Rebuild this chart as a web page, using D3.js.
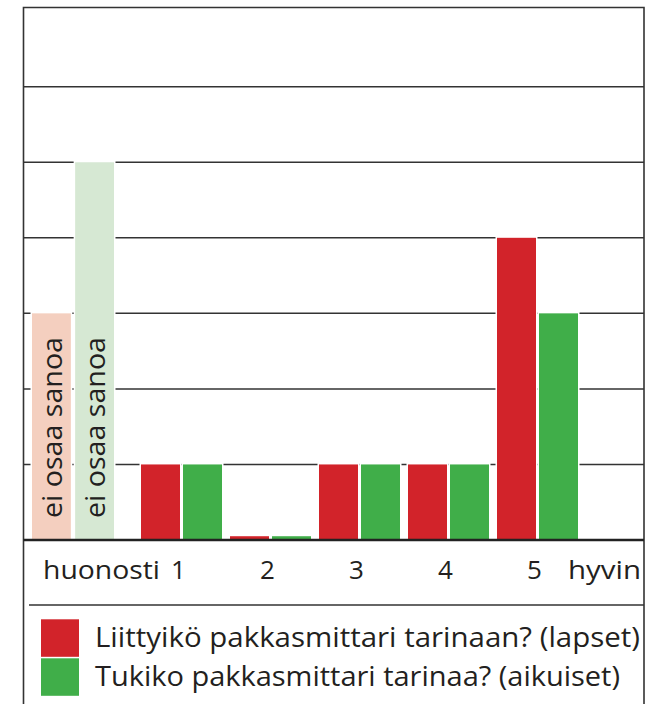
<!DOCTYPE html>
<html>
<head>
<meta charset="utf-8">
<script src="https://cdn.jsdelivr.net/npm/d3@7"></script>
<style>
  html, body { margin: 0; padding: 0; background: #fff; }
  svg { display: block; }
  text { font-family: "Open Sans", Lato, sans-serif; fill: #231f20; }
</style>
</head>
<body>
<svg id="chart" width="655" height="704"></svg>
<script>
// Rating categories (1 = huonosti ... 5 = hyvin)
const ratings = ["1", "2", "3", "4", "5"];
const seriesKeys = ["lapset", "aikuiset"];
const seriesLabels = [
  "Liittyikö pakkasmittari tarinaan? (lapset)",
  "Tukiko pakkasmittari tarinaa? (aikuiset)"
];
// Answer counts per rating
const lapsetValues = [1, 0.05, 1, 1, 4];
const aikuisetValues = [1, 0.05, 1, 1, 3];
// "ei osaa sanoa" answers
const eiOsaaLabel = "ei osaa sanoa";
const eiOsaaValues = [3, 5];
const gridValues = [1, 2, 3, 4, 5, 6];
const lowLabel = "huonosti";
const highLabel = "hyvin";

const colors = { lapset: "#d2232a", aikuiset: "#40ae49" };
const paleColors = { lapset: "#f4cfbf", aikuiset: "#d6e8d3" };
const lineColor = "#333";

const svg = d3.select("#chart");

const frame = { left: 23.5, right: 644, top: 7.5, bottom: 704 };
const baseY = 540;
const labelY = baseY + 39;

// scales
const y = d3.scaleLinear().domain([0, 6]).range([baseY, 86.7]);

const x = d3.scaleBand().domain(ratings)
  .range([137, 582]).paddingInner(8 / 89).paddingOuter(4 / 89);
const xSub = d3.scaleBand().domain(seriesKeys)
  .range([0, x.bandwidth()]).paddingInner(0.0714);
const xEi = d3.scaleBand().domain(seriesKeys)
  .range([32, 114]).paddingInner(0.1);

// gridlines
svg.append("g").selectAll("line").data(gridValues).join("line")
  .attr("x1", frame.left).attr("x2", frame.right)
  .attr("y1", d => y(d)).attr("y2", d => y(d))
  .attr("stroke", lineColor).attr("stroke-width", 1.5);

// "ei osaa sanoa" bars
const eiRows = seriesKeys.map((k, i) => ({ key: k, value: eiOsaaValues[i] }));
const eiG = svg.append("g");
eiG.selectAll("rect").data(eiRows).join("rect")
  .attr("x", d => xEi(d.key)).attr("width", xEi.bandwidth())
  .attr("y", d => y(d.value)).attr("height", d => baseY - y(d.value))
  .attr("fill", d => paleColors[d.key])
  .attr("stroke", "#fff").attr("stroke-width", 3).attr("paint-order", "stroke");
eiG.selectAll("text").data(eiRows).join("text")
  .attr("transform", d => `translate(${xEi(d.key) + xEi.bandwidth() / 2 + 10.5},518) rotate(-90)`)
  .attr("font-size", 28)
  .attr("textLength", 181).attr("lengthAdjust", "spacingAndGlyphs")
  .text(eiOsaaLabel);

// rating bars
const rows = ratings.map((r, i) => ({ rating: r, lapset: lapsetValues[i], aikuiset: aikuisetValues[i] }));
svg.append("g").selectAll("g").data(rows).join("g")
  .attr("transform", d => `translate(${x(d.rating)},0)`)
  .selectAll("rect")
  .data(d => seriesKeys.map(k => ({ key: k, value: d[k] })))
  .join("rect")
  .attr("x", d => xSub(d.key)).attr("width", xSub.bandwidth())
  .attr("y", d => y(d.value)).attr("height", d => baseY - y(d.value))
  .attr("fill", d => colors[d.key])
  .attr("stroke", "#fff").attr("stroke-width", 3).attr("paint-order", "stroke");

// frame
svg.append("path")
  .attr("d", `M${frame.left},${frame.bottom}V${frame.top}H${frame.right}V${frame.bottom}`)
  .attr("fill", "none").attr("stroke", lineColor).attr("stroke-width", 1.6);
// baseline
svg.append("line")
  .attr("x1", frame.left).attr("x2", frame.right)
  .attr("y1", baseY).attr("y2", baseY)
  .attr("stroke", "#222").attr("stroke-width", 2.6);

// x axis labels
const axis = d3.axisBottom(x).tickSize(0).tickPadding(0);
const axG = svg.append("g").attr("transform", `translate(-3,${baseY})`).call(axis);
axG.select(".domain").remove();
axG.selectAll("text")
  .attr("y", labelY - baseY).attr("dy", null)
  .attr("font-size", 26).attr("font-family", "'Open Sans', sans-serif").attr("fill", "#231f20");
svg.append("text")
  .attr("x", 160).attr("y", labelY)
  .attr("text-anchor", "end").attr("font-size", 26)
  .attr("textLength", 117).attr("lengthAdjust", "spacingAndGlyphs")
  .text(lowLabel);
svg.append("text")
  .attr("x", 568).attr("y", labelY)
  .attr("font-size", 26)
  .attr("textLength", 73).attr("lengthAdjust", "spacingAndGlyphs")
  .text(highLabel);

// legend
svg.append("line")
  .attr("x1", 29).attr("x2", frame.right)
  .attr("y1", 605).attr("y2", 605)
  .attr("stroke", lineColor).attr("stroke-width", 1.5);
const legendWidths = [545, 525];
const lg = svg.append("g").selectAll("g").data(seriesKeys).join("g")
  .attr("transform", (d, i) => `translate(41,${619.3 + i * 39})`);
lg.append("rect").attr("width", 38).attr("height", 37.5)
  .attr("fill", d => colors[d]);
lg.append("text")
  .attr("x", 54).attr("y", 27.5)
  .attr("font-size", 28)
  .attr("textLength", (d, i) => legendWidths[i]).attr("lengthAdjust", "spacingAndGlyphs")
  .text((d, i) => seriesLabels[i]);
</script>
</body>
</html>
